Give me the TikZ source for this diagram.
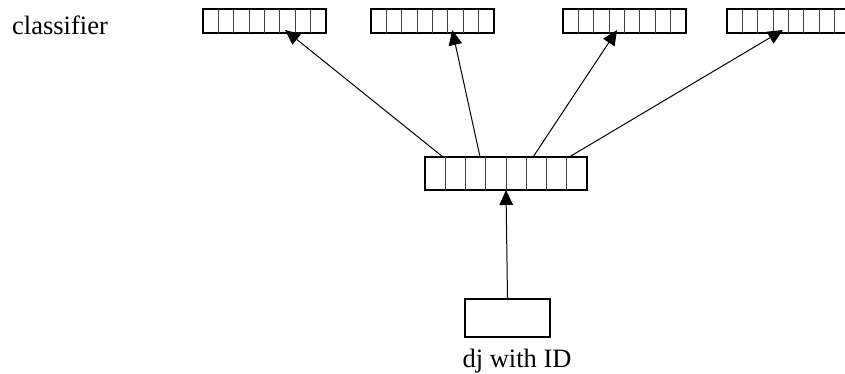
\documentclass[tikz,border=0pt]{standalone}
\usepackage{fontspec}
\setmainfont{Liberation Serif}
\usetikzlibrary{arrows.meta,calc}

\tikzset{
  rowbox/.style={draw, line width=2pt, inner sep=0pt, outer sep=0pt, anchor=north west, fill=white},
  cellline/.style={line width=1pt, draw=black!75},
  link/.style={line width=1pt, -{Triangle[length=15pt,width=13.5pt]}},
  label/.style={inner sep=0pt, font=\fontsize{26.5}{30}\selectfont},
}

% a strip of eight cells: name, top-left corner, width, height
\newcommand\cellstrip[4]{%
  \node[rowbox, minimum width=#3, minimum height=#4] (#1) at #2 {};
  \foreach \k in {1,...,7}
    \draw[cellline] ($(#1.north west)!\k/8!(#1.north east)$) -- ($(#1.south west)!\k/8!(#1.south east)$);
}

\begin{document}
\begin{tikzpicture}[x=1pt,y=-1pt]
  \useasboundingbox (0,0) rectangle (845,374);
  \clip (0,0) rectangle (845,374);

  % classifier heads
  \cellstrip{h1}{(203,9.5)}{123pt}{24pt}
  \cellstrip{h2}{(371,9.5)}{123pt}{24pt}
  \cellstrip{h3}{(563,9.5)}{123pt}{24pt}
  \cellstrip{h4}{(727,9.5)}{123pt}{24pt}

  % shared representation
  \cellstrip{mid}{(425,157)}{162pt}{33pt}

  % input
  \node[rowbox, minimum width=85pt, minimum height=38pt] (inp) at (465,299) {};

  \node[label, anchor=base west] (cls) at (12,34.5) {classifier};
  \node[label, anchor=base] (inl) at (517,367) {dj with ID};

  % arrow ends on the heads
  \coordinate (t1) at ($(h1.south west)!0.667!(h1.south east)+(0,-3.5)$);
  \coordinate (t2) at ($(h2.south west)!0.66!(h2.south east)+(0,-3.5)$);
  \coordinate (t3) at ($(h3.south west)!0.44!(h3.south east)+(0,-3.5)$);
  \coordinate (t4) at ($(h4.south west)!0.455!(h4.south east)+(0,-3.5)$);

  % arrow starts on the shared strip
  \coordinate (s1) at ($(mid.north west)!0.111!(mid.north east)$);
  \coordinate (s2) at ($(mid.north west)!0.34!(mid.north east)$);
  \coordinate (s3) at ($(mid.north west)!0.667!(mid.north east)$);
  \coordinate (s4) at ($(mid.north west)!0.89!(mid.north east)$);

  \draw[link] (s1) -- (t1);
  \draw[link] (s2) -- (t2);
  \draw[link] (s3) -- (t3);
  \draw[link] (s4) -- (t4);

  \draw[link] (inp.north) -- (mid.south);
\end{tikzpicture}
\end{document}
